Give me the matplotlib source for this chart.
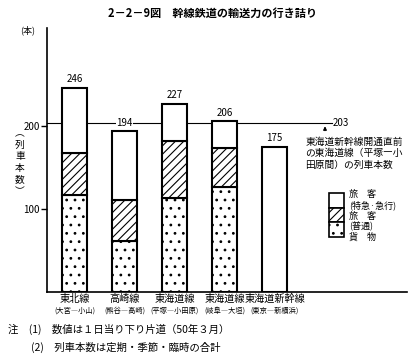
import matplotlib
matplotlib.use("Agg")
import matplotlib.pyplot as plt

plt.rcParams["font.family"] = ["Noto Sans CJK JP", "DejaVu Sans"]
plt.rcParams["hatch.linewidth"] = 0.8

lines = ["東北線", "高崎線", "東海道線", "東海道線", "東海道新幹線"]
sections = ["(大宮―小山)", "(熊谷―高崎)", "(平塚―小田原)", "(岐阜―大垣)", "(東京―新横浜)"]
freight = [117, 61, 113, 126, 0]
local = [50, 50, 69, 47, 0]
express = [79, 83, 45, 33, 175]
totals = [246, 194, 227, 206, 175]
before_shinkansen = 203
legend_lines = ["旅　客", "(特急·急行)", "旅　客", "(普通)", "貨　物"]

fig = plt.figure(figsize=(4.14, 3.63), dpi=100)
ax = fig.add_axes([47 / 414, 1 - 292 / 363, 360 / 414, 264 / 363])

x = list(range(len(lines)))
w = 0.5
ax.bar(x, freight, w, color="white", edgecolor="black", hatch="..", linewidth=1.5, zorder=3)
ax.bar(x, local, w, bottom=freight, color="white", edgecolor="black", hatch="////", linewidth=1.5, zorder=3)
bottom3 = [a + b for a, b in zip(freight, local)]
ax.bar(x, express, w, bottom=bottom3, color="white", edgecolor="black", linewidth=1.5, zorder=3)

for xi, t in zip(x, totals):
    ax.text(xi, t + 4, str(t), ha="center", va="bottom", fontsize=7,
            bbox=dict(facecolor="white", edgecolor="none", pad=0.5), zorder=4)

ax.set_xlim(-0.55, 6.65)
ax.set_ylim(0, 318)
line_end = 5.15
ax.plot([-0.55, line_end], [before_shinkansen] * 2, color="black", linewidth=0.8, zorder=2)
ax.text(line_end + 0.02, before_shinkansen, str(before_shinkansen), ha="left", va="center", fontsize=7)
ax.annotate("", xy=(5.01, before_shinkansen), xytext=(5.01, before_shinkansen - 12),
            arrowprops=dict(arrowstyle="-|>", color="black", lw=0.8, mutation_scale=5))
ax.text(4.62, 187, "東海道新幹線開通直前\nの東海道線（平塚―小\n田原間）の列車本数",
        ha="left", va="top", fontsize=7, linespacing=1.2)

for s in ["top", "right"]:
    ax.spines[s].set_visible(False)
ax.spines["left"].set_linewidth(1.2)
ax.spines["bottom"].set_linewidth(1.2)
ax.set_yticks([100, 200])
ax.set_yticklabels(["100", "200"], fontsize=7)
ax.tick_params(axis="y", length=4, width=1, pad=1)
ax.set_xticks(x)
ax.set_xticklabels([])
ax.tick_params(axis="x", length=0)
for xi, name, sec in zip(x, lines, sections):
    ax.text(xi, -2.5, name, ha="center", va="top", fontsize=7.3)
    ax.text(xi, -17, sec, ha="center", va="top", fontsize=5.2)

# legend boxes
lx, lw_ = 5.24, 0.3
ly = [66, 84, 101, 119]
patches = [(ly[2], ly[3], None), (ly[1], ly[2], "////"), (ly[0], ly[1], "..")]
for y0, y1, h in patches:
    ax.bar(lx, y1 - y0, lw_, bottom=y0, color="white", edgecolor="black", hatch=h,
           linewidth=1.2, zorder=3, clip_on=False)
legend_y = [118, 104, 90.5, 78.5, 66]
for txt, yy in zip(legend_lines, legend_y):
    ax.text(5.5, yy, txt, ha="left", va="center", fontsize=6.5)

fig.text(212 / 414, 1 - 13 / 363, "2－2－9図　幹線鉄道の輸送力の行き詰り",
         ha="center", va="center", fontsize=8, fontweight="bold")
fig.text(28 / 414, 1 - 30 / 363, "(本)", ha="center", va="center", fontsize=6.5)
fig.text(20 / 414, 1 - 162 / 363, "︵\n列\n車\n本\n数\n︶", ha="center", va="center",
         fontsize=7, linespacing=1.2)
fig.text(8 / 414, 1 - 329 / 363, "注　(1)　数値は１日当り下り片道（50年３月）",
         ha="left", va="center", fontsize=7.5)
fig.text(31 / 414, 1 - 347 / 363, "(2)　列車本数は定期・季節・臨時の合計",
         ha="left", va="center", fontsize=7.5)

fig.savefig("out.png", dpi=100)
